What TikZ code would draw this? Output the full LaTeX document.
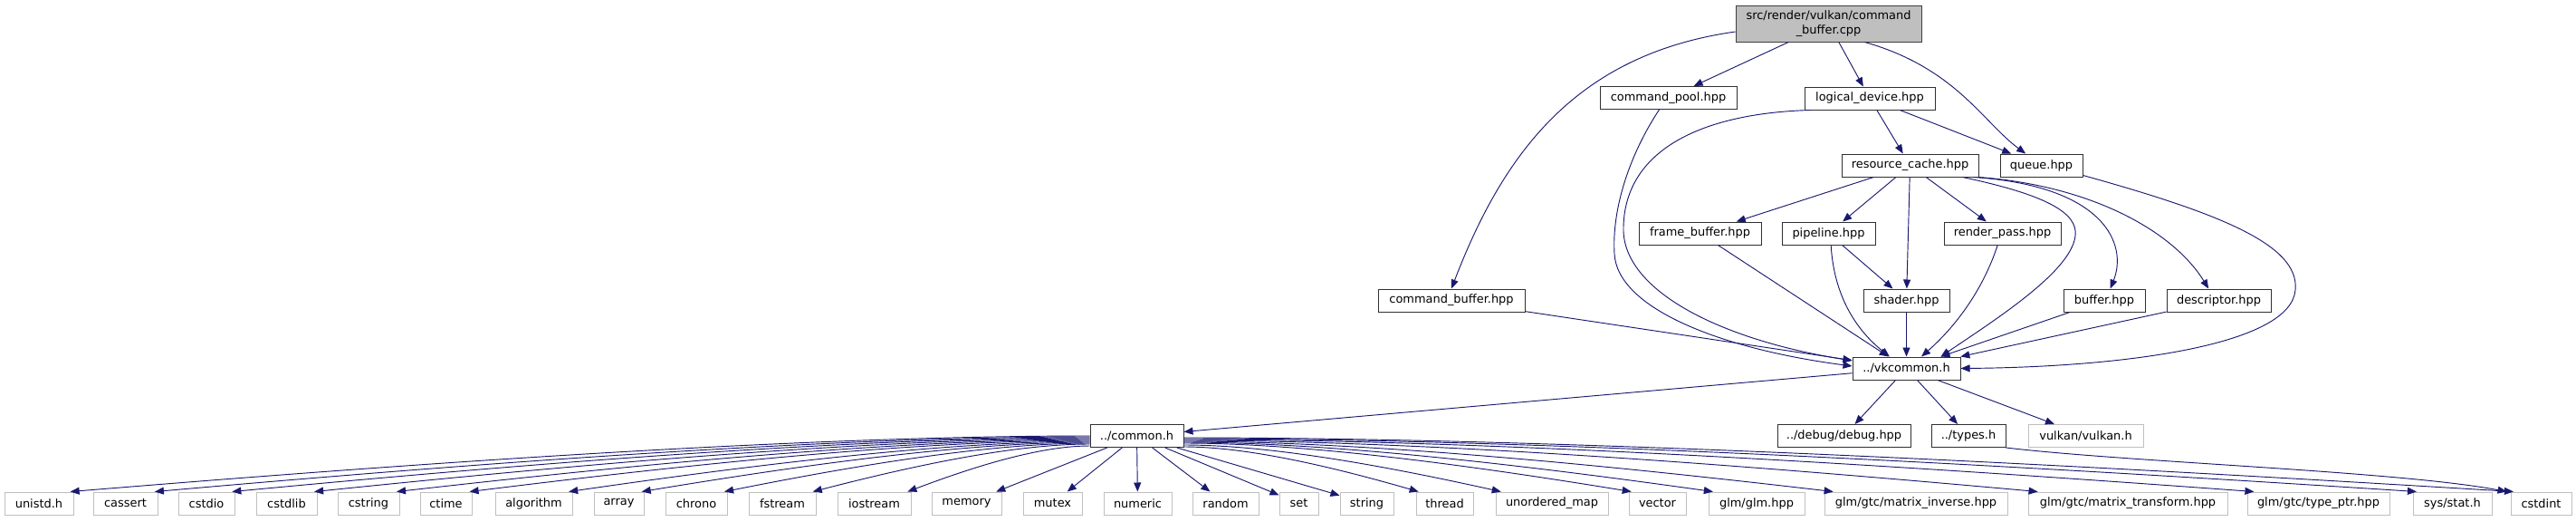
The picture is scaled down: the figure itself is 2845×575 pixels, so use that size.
\documentclass[tikz,border=0pt]{standalone}
\usepackage{fontspec}
\setmainfont{DejaVu Sans}
\usetikzlibrary{arrows.meta,calc}
\definecolor{edgec}{HTML}{191970}
\definecolor{rootfill}{HTML}{BFBFBF}
\definecolor{rootdraw}{HTML}{404040}
\definecolor{extdraw}{HTML}{BFBFBF}
\definecolor{docdraw}{HTML}{303030}
\tikzset{
  nd/.style={draw=docdraw, line width=0.75pt, fill=white, inner sep=0pt,
    minimum height=18.75pt, font=\fontsize{9.7}{12}\selectfont, text=black},
  ext/.style={nd, draw=extdraw},
  rootnd/.style={nd, fill=rootfill, draw=rootdraw, minimum height=30pt, align=center},
  bw/.style={minimum width=#1*0.75pt},
  edge/.style={draw=edgec, line width=0.7pt, -{Triangle[length=7.5pt,width=6pt]}},
}
\newcommand\fan[4]{%
  \draw[edge] let \p1=([yshift=-#2*0.75pt]cm.#1),
                  \p2=($(#3.north west)!#4!(#3.north east)$) in
    (\p1) .. controls ({\x1+0.3*(\x2-\x1)},\y1) and ({\x2-0.3*(\x2-\x1)},{\y2+0.45*(\y1-\y2)}) .. (\p2);}
\begin{document}
\begin{tikzpicture}[x=0.75pt,y=-0.75pt]
\useasboundingbox (0,0) rectangle (2845,575);
% nodes
\node[rootnd,bw=205] (root) at (2019.5,26) {src/render/vulkan/command\\\_buffer.cpp};
\node[nd,bw=151] (cpool) at (1842.5,108) {command\_pool.hpp};
\node[nd,bw=144] (ld) at (2065,108.5) {logical\_device.hpp};
\node[nd,bw=151] (rc) at (2109.5,182.5) {resource\_cache.hpp};
\node[nd,bw=91] (queue) at (2254.5,182.5) {queue.hpp};
\node[nd,bw=135] (fb) at (1877.5,257.5) {frame\_buffer.hpp};
\node[nd,bw=103] (pipe) at (2019.5,257.5) {pipeline.hpp};
\node[nd,bw=129] (rp) at (2211.5,257.5) {render\_pass.hpp};
\node[nd,bw=162] (cbuf) at (1603,331.5) {command\_buffer.hpp};
\node[nd,bw=95] (shader) at (2105.5,331.5) {shader.hpp};
\node[nd,bw=90] (buffer) at (2324,331.5) {buffer.hpp};
\node[nd,bw=115] (desc) at (2450.5,331.5) {descriptor.hpp};
\node[nd,bw=119] (vk) at (2105.5,406.5) {../vkcommon.h};
\node[nd,bw=103] (cm) at (1255.5,481) {../common.h};
\node[nd,bw=147] (debug) at (2036.5,481) {../debug/debug.hpp};
\node[nd,bw=82] (types) at (2174,481) {../types.h};
\node[ext,bw=127] (vulkan) at (2303.5,481) {vulkan/vulkan.h};
% leaves
\node[ext,bw=76] (unistd) at (43,555.5) {unistd.h};
\node[ext,bw=71] (cassert) at (138.5,555.5) {cassert};
\node[ext,bw=62] (cstdio) at (228,555.5) {cstdio};
\node[ext,bw=67] (cstdlib) at (316.5,555.5) {cstdlib};
\node[ext,bw=68] (cstring) at (407,555.5) {cstring};
\node[ext,bw=57] (ctime) at (492.5,555.5) {ctime};
\node[ext,bw=85] (algorithm) at (589.5,555.5) {algorithm};
\node[ext,bw=55] (array) at (683.5,555.5) {array};
\node[ext,bw=68] (chrono) at (769,555.5) {chrono};
\node[ext,bw=74] (fstream) at (864,555.5) {fstream};
\node[ext,bw=81] (iostream) at (965.5,555.5) {iostream};
\node[ext,bw=77] (memory) at (1067.5,555.5) {memory};
\node[ext,bw=65] (mutex) at (1162.5,555.5) {mutex};
\node[ext,bw=75] (numeric) at (1256.5,555.5) {numeric};
\node[ext,bw=73] (random) at (1353.5,555.5) {random};
\node[ext,bw=43] (set) at (1434.5,555.5) {set};
\node[ext,bw=59] (string) at (1509.5,555.5) {string};
\node[ext,bw=63] (thread) at (1595.5,555.5) {thread};
\node[ext,bw=124] (umap) at (1714,555.5) {unordered\_map};
\node[ext,bw=63] (vector) at (1830.5,555.5) {vector};
\node[ext,bw=106] (glm) at (1940,555.5) {glm/glm.hpp};
\node[ext,bw=202] (minv) at (2116,555.5) {glm/gtc/matrix\_inverse.hpp};
\node[ext,bw=220] (mtra) at (2350,555.5) {glm/gtc/matrix\_transform.hpp};
\node[ext,bw=157] (tptr) at (2560.5,555.5) {glm/gtc/type\_ptr.hpp};
\node[ext,bw=87] (sysstat) at (2708.5,555.5) {sys/stat.h};
\node[ext,bw=67] (cstdint) at (2806.5,555.5) {cstdint};
% upper edges
\draw[edge] (root) -- (cpool);
\draw[edge] (root) -- (ld);
\draw[edge] ([xshift=30pt]root.south) .. controls (2160,75) and (2190,135) .. ([xshift=-13pt]queue.north);
\draw[edge] ([yshift=-6.75pt]root.west) .. controls (1740,60) and (1660,170) .. (cbuf.north);
\draw[edge] ([xshift=-7.5pt]cpool.south) .. controls (1800,170) and (1780,230) .. (1783,280)
   .. controls (1786,340) and (1900,385) .. ([yshift=1.9pt]vk.west);
\draw[edge] ([xshift=5pt]ld.south west) .. controls (1880,125) and (1795,165) .. (1793,250)
   .. controls (1790,320) and (1900,375) .. ([yshift=6.4pt]vk.west);
\draw[edge] (ld) -- (rc);
\draw[edge] (ld) -- (queue);
\draw[edge] (rc) -- (fb);
\draw[edge] (rc) -- (pipe);
\draw[edge] (rc) -- (shader);
\draw[edge] (rc) -- (rp);
\draw[edge] ([xshift=-13.5pt]rc.south east) .. controls (2260,215) and (2295,235) .. (2292,260)
   .. controls (2288,300) and (2200,355) .. ([xshift=-16.5pt]vk.north east);
\draw[edge] ([xshift=-5pt]rc.south east) .. controls (2325,205) and (2350,270) .. ([xshift=5pt]buffer.north);
\draw[edge] (rc.south east) .. controls (2310,205) and (2400,255) .. ([xshift=-8.5pt]desc.north);
\draw[edge] ([yshift=1.5pt]queue.south east) .. controls (2450,235) and (2540,270) .. (2535,320)
   .. controls (2530,380) and (2350,405) .. (vk.east);
\draw[edge] (fb) -- (vk);
\draw[edge] (pipe) -- (shader);
\draw[edge] ([xshift=2pt]pipe.south) .. controls (2025,320) and (2045,360) .. ([xshift=-14pt]vk.north);
\draw[edge] ([xshift=-4pt]rp.south) .. controls (2190,320) and (2160,360) .. ([xshift=12.4pt]vk.north);
\draw[edge] (cbuf) -- (vk);
\draw[edge] (shader) -- (vk);
\draw[edge] (buffer) -- (vk);
\draw[edge] (desc) -- (vk);
% vkcommon out
\draw[edge] (vk) -- (cm);
\draw[edge] (vk) -- (debug);
\draw[edge] (vk) -- (types);
\draw[edge] (vk) -- (vulkan);
\draw[edge] (types.south east) .. controls (2350,510) and (2650,520) .. ([xshift=-3pt]cstdint.north west);
% common.h fan
\fan{west}{0}{unistd}{0.95}
\fan{west}{1}{cassert}{0.95}
\fan{west}{2}{cstdio}{0.95}
\fan{west}{3}{cstdlib}{0.95}
\fan{west}{4}{cstring}{0.95}
\fan{west}{5}{ctime}{0.95}
\fan{west}{6}{algorithm}{0.95}
\fan{west}{7}{array}{0.95}
\fan{west}{8}{chrono}{0.95}
\fan{west}{9}{fstream}{0.95}
\fan{west}{11}{iostream}{0.95}
\draw[edge] (cm) -- (memory);
\draw[edge] (cm) -- (mutex);
\draw[edge] (cm) -- (numeric);
\draw[edge] (cm) -- (random);
\draw[edge] (cm) -- (set);
\draw[edge] (cm) -- (string);
\fan{east}{12}{thread}{0.05}
\fan{east}{10}{umap}{0.05}
\fan{east}{8}{vector}{0.05}
\fan{east}{7}{glm}{0.05}
\fan{east}{6}{minv}{0.05}
\fan{east}{5}{mtra}{0.05}
\fan{east}{4}{tptr}{0.05}
\fan{east}{3}{sysstat}{0.05}
\fan{east}{2}{cstdint}{0.05}
\end{tikzpicture}
\end{document}
